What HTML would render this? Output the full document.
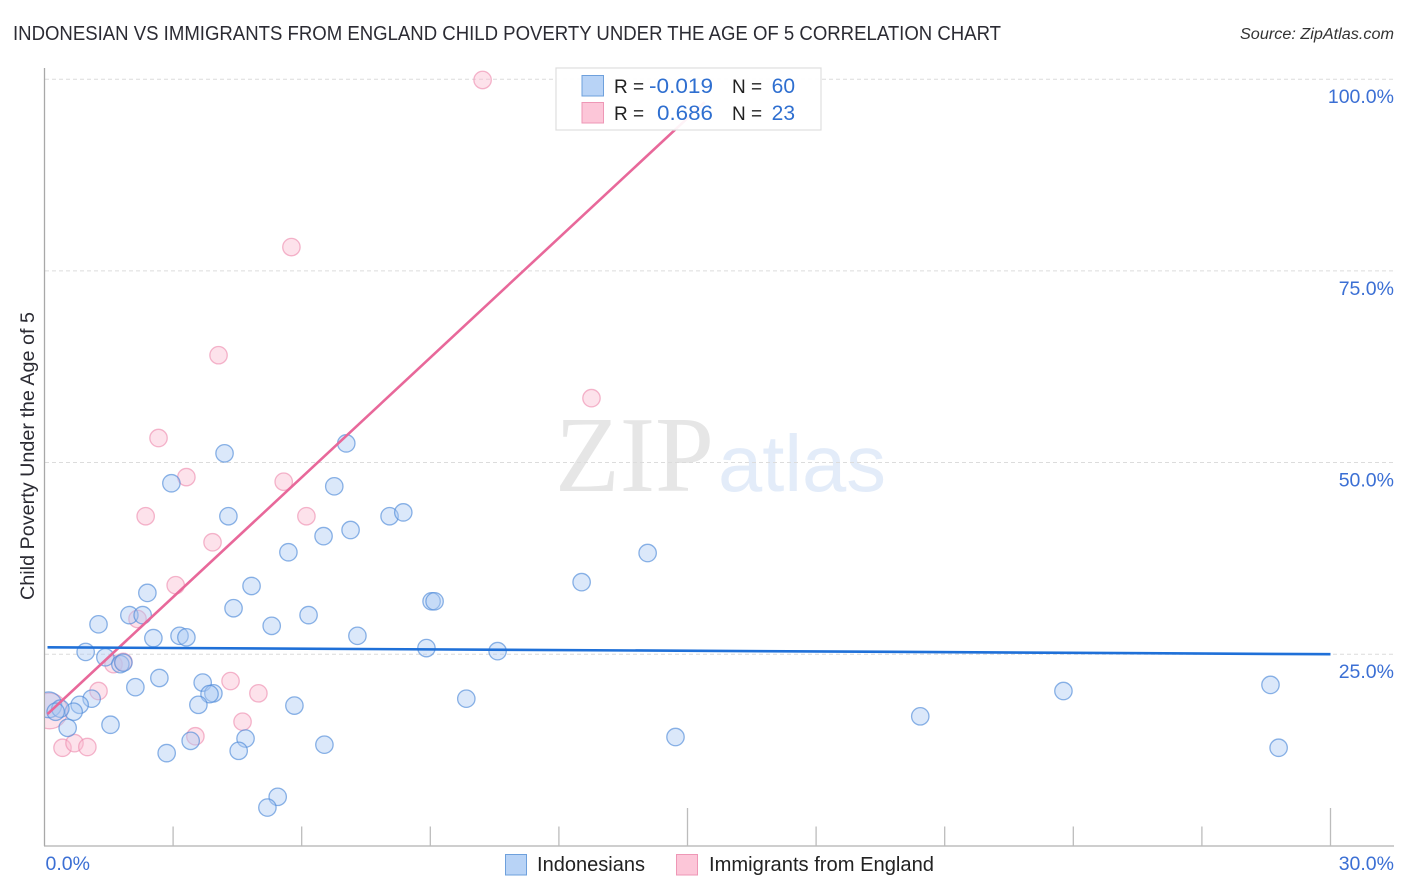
<!DOCTYPE html>
<html lang="en">
<head>
<meta charset="utf-8">
<title>Indonesian vs Immigrants from England Child Poverty Correlation Chart</title>
<style>
html,body{margin:0;padding:0;background:#fff;width:1406px;height:892px;overflow:hidden}
svg{display:block;font-family:"Liberation Sans",sans-serif}
</style>
</head>
<body>
<svg id="chart" width="1406" height="892" viewBox="0 0 1406 892" xmlns="http://www.w3.org/2000/svg">
  <defs><clipPath id="plot-clip"><rect x="45" y="60" width="1349" height="786"/></clipPath></defs>
  <text x="13" y="40" font-size="20" fill="#2b2b33" textLength="988" lengthAdjust="spacingAndGlyphs">INDONESIAN VS IMMIGRANTS FROM ENGLAND CHILD POVERTY UNDER THE AGE OF 5 CORRELATION CHART</text>
  <text x="1394" y="39" font-size="15.5" font-style="italic" fill="#333" text-anchor="end" textLength="154" lengthAdjust="spacingAndGlyphs">Source: ZipAtlas.com</text>
  <text x="555" y="491" font-family="'Liberation Serif',serif" font-size="108" fill="#e6e6e6" textLength="159" lengthAdjust="spacingAndGlyphs">ZIP</text>
  <text x="718" y="491" font-size="80" fill="#e3ecf9" textLength="168" lengthAdjust="spacingAndGlyphs">atlas</text>
  <g id="grid"></g>
  <g id="axes"></g>
  <g id="points" clip-path="url(#plot-clip)"></g>
  <g id="trends"></g>
  <g>
    <rect x="556" y="68" width="265" height="62" fill="#fff" fill-opacity="0.92" stroke="#dedede" stroke-width="1.2"/>
    <rect x="582" y="75.5" width="21.5" height="20.5" fill="#b8d3f6" stroke="#6ea0dc" stroke-width="1"/>
    <rect x="582" y="102.5" width="21.5" height="20.5" fill="#fcc6d8" stroke="#ee97b6" stroke-width="1"/>
    <text x="614" y="93" font-size="19" fill="#222">R =</text>
    <text x="713" y="93" font-size="21" fill="#2f6fd0" text-anchor="end" textLength="64" lengthAdjust="spacingAndGlyphs">-0.019</text>
    <text x="732" y="93" font-size="19" fill="#222">N =</text>
    <text x="795" y="93" font-size="21" fill="#2f6fd0" text-anchor="end">60</text>
    <text x="614" y="120" font-size="19" fill="#222">R =</text>
    <text x="713" y="120" font-size="21" fill="#2f6fd0" text-anchor="end" textLength="56" lengthAdjust="spacingAndGlyphs">0.686</text>
    <text x="732" y="120" font-size="19" fill="#222">N =</text>
    <text x="795" y="120" font-size="21" fill="#2f6fd0" text-anchor="end">23</text>
  </g>
  <g>
    <rect x="505.500" y="854.500" width="21" height="20.500" fill="#b8d3f6" stroke="#6ea0dc" stroke-width="1"/>
    <text x="537" y="871" font-size="20" fill="#222" textLength="108" lengthAdjust="spacingAndGlyphs">Indonesians</text>
    <rect x="676.500" y="854.500" width="21" height="20.500" fill="#fcc6d8" stroke="#ee97b6" stroke-width="1"/>
    <text x="709" y="871" font-size="20" fill="#222" textLength="225" lengthAdjust="spacingAndGlyphs">Immigrants from England</text>
  </g>
</svg>
<script>
const indonesiansX = [0.1,4.20,7.04,2.96,6.76,4.29,8.05,8.37,6.51,7.14,5.69,14.07,12.53,4.83,2.40,9.03,9.10,4.41,1.98,2.29,6.16,1.26,5.30,2.54,3.15,3.31,7.30,0.96,8.91,10.57,1.42,1.77,1.84,2.68,2.12,3.69,3.94,3.85,3.59,5.83,9.84,23.77,28.60,20.43,1.10,0.82,0.68,1.54,0.37,0.26,0.54,3.41,4.69,4.53,6.53,2.85,14.72,28.79,5.44,5.20];
const indonesiansY = [18.4,51.2,52.5,47.3,46.9,43.0,43.0,43.5,40.4,41.2,38.3,38.2,34.4,33.9,33.0,31.9,31.9,31.0,30.1,30.1,30.1,28.9,28.7,27.1,27.4,27.2,27.4,25.3,25.8,25.4,24.6,23.7,23.9,21.9,20.7,21.3,19.9,19.8,18.4,18.3,19.2,20.2,21.0,16.9,19.2,18.4,17.5,15.8,17.9,17.5,15.4,13.7,14.0,12.4,13.2,12.1,14.2,12.8,6.4,5.0];
const indonesiansWeight = [2.2];
const immigrantsX = [0.12,10.22,5.76,4.06,12.76,2.66,3.31,5.58,2.36,6.11,3.92,3.06,2.17,1.61,1.84,4.34,4.99,1.26,4.62,3.52,0.42,0.70,1.00];
const immigrantsY = [17.6,99.9,78.1,64.0,58.4,53.2,48.1,47.5,43.0,43.0,39.6,34.0,29.6,23.7,24.0,21.5,19.9,20.2,16.2,14.3,12.8,13.4,12.9];
const immigrantsWeight = [4.2];
const indonesiansTrendX = [0.07,30];
const indonesiansTrendY = [25.9,25.0];
const immigrantsTrendX = [0.07,15.4];
const immigrantsTrendY = [17.2,97];
const yTickValues = [100,75,50,25];
const yTickLabels = ["100.0%","75.0%","50.0%","25.0%"];
const xTickValues = [3,6,9,12,15,18,21,24,27,30];
const xMajorTicks = [15,30];
const xEndLabels = ["0.0%","30.0%"];
const xEndValues = [0,30];

const NS = 'http://www.w3.org/2000/svg';
function xs(v){return 44.5 + v * (1286 / 30);}
function ys(v){return 845.9 - v * 7.667;}
function make(tag, attrs, parent){
  const el = document.createElementNS(NS, tag);
  for (const k in attrs) el.setAttribute(k, attrs[k]);
  parent.appendChild(el);
  return el;
}
const grid = document.getElementById('grid');
const axes = document.getElementById('axes');
const pts = document.getElementById('points');
const trends = document.getElementById('trends');

yTickValues.forEach(function(v,i){
  const g = make('line',{x1:45,x2:1394,y1:ys(v),y2:ys(v),stroke:'#dcdcdc','stroke-width':1,'stroke-dasharray':'4 3'},grid);
  
  
  const t = make('text',{x:1394,y:ys(v)+24,'font-size':19.5,fill:'#3b6fd4','text-anchor':'end'},axes);
  
  
  t.textContent = yTickLabels[i];
});

const yAxis = make('line',{x1:44.5,x2:44.5,y1:68,y2:846,stroke:'#a8a8a8','stroke-width':1.3},axes);


const xAxis = make('line',{x1:44,x2:1394,y1:846,y2:846,stroke:'#b0b0b0','stroke-width':1.3},axes);



xTickValues.forEach(function(v){
  const major = xMajorTicks.indexOf(v) >= 0;
  const t = make('line',{x1:xs(v),x2:xs(v),y1:major?808:826.500,y2:846,stroke:'#bcbcbc','stroke-width':1.3},axes);
  
  
});

xEndValues.forEach(function(v,i){
  const t = make('text',{x:i===0?xs(v)+1:1394,y:870,'font-size':19.500,fill:'#3b6fd4','text-anchor':i===0?'start':'end'},axes);
  
  
  t.textContent = xEndLabels[i];
});

const yTitle = make('text',{x:0,y:0,'font-size':19,fill:'#2b2b33','text-anchor':'middle',transform:'translate(34,456) rotate(-90)',textLength:288,lengthAdjust:'spacingAndGlyphs'},axes);


yTitle.textContent = 'Child Poverty Under the Age of 5';

immigrantsX.forEach(function(v,i){
  const w = immigrantsWeight[i] || 1;
  const c = make('circle',{cx:xs(v),cy:ys(immigrantsY[i]),r:8.7*Math.sqrt(w),fill:'#fbb9cf','fill-opacity':0.42,stroke:'#ee8fb0','stroke-opacity':0.65,'stroke-width':1.3},pts);
  
  
});
indonesiansX.forEach(function(v,i){
  const w = indonesiansWeight[i] || 1;
  const c = make('circle',{cx:xs(v),cy:ys(indonesiansY[i]),r:8.7*Math.sqrt(w),fill:'#a9c9f3','fill-opacity':0.42,stroke:'#4f8ad8','stroke-opacity':0.65,'stroke-width':1.3},pts);
  
  
});

const t1 = make('line',{x1:xs(immigrantsTrendX[0]),y1:ys(immigrantsTrendY[0]),x2:xs(immigrantsTrendX[1]),y2:ys(immigrantsTrendY[1]),stroke:'#e8689a','stroke-width':2.6},trends);


const t2 = make('line',{x1:xs(indonesiansTrendX[0]),y1:ys(indonesiansTrendY[0]),x2:xs(indonesiansTrendX[1]),y2:ys(indonesiansTrendY[1]),stroke:'#1f70d8','stroke-width':2.6},trends);


</script>
</body>
</html>
